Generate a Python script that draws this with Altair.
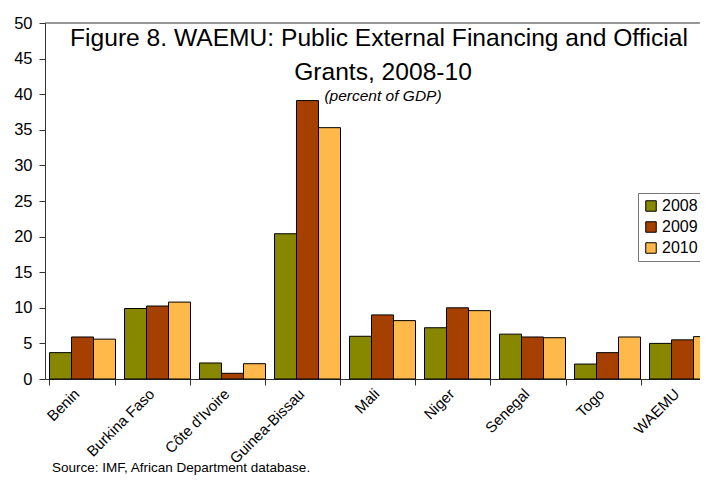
import altair as alt
import pandas as pd

countries = ["Benin", "Burkina Faso", "Côte d'Ivoire", "Guinea-Bissau", "Mali",
             "Niger", "Senegal", "Togo", "WAEMU"]
years = ["2008", "2009", "2010"]
v2008 = [3.7, 9.9, 2.25, 20.4, 6.0, 7.2, 6.3, 2.1, 5.0]
v2009 = [5.9, 10.25, 0.8, 39.1, 9.0, 10.0, 5.9, 3.7, 5.5]
v2010 = [5.6, 10.8, 2.15, 35.3, 8.2, 9.6, 5.8, 5.9, 5.95]
colors = ["#878700", "#A54000", "#FFB84A"]

title1 = "Figure 8. WAEMU: Public External Financing and Official"
title2 = "Grants, 2008-10"
subtitle = "(percent of GDP)"
source = "Source: IMF, African Department database."

rows = []
for i, c in enumerate(countries):
    for y, vals in zip(years, [v2008, v2009, v2010]):
        rows.append({"country": c, "year": y, "value": vals[i]})
df = pd.DataFrame(rows)

FONT = "Liberation Sans"
W, H = 655, 356

bars = alt.Chart(df).mark_bar(stroke="black", strokeWidth=1).encode(
    x=alt.X("country:N", sort=countries, title=None,
            scale=alt.Scale(paddingInner=0.12, paddingOuter=0.06, range=[0, 675]),
            axis=alt.Axis(labelAngle=-45, labelFontSize=15, labelFont=FONT,
                          labelColor="black", tickBand="extent", tickSize=6,
                          tickColor="#333", domainColor="#333", labelPadding=1,
                          labelOffset=-11)),
    xOffset=alt.XOffset("year:N", sort=years),
    y=alt.Y("value:Q", title=None,
            scale=alt.Scale(domain=[0, 50], nice=False),
            axis=alt.Axis(values=list(range(0, 51, 5)), grid=False, labelFontSize=16.5,
                          labelFont=FONT, labelColor="black", tickSize=6,
                          tickColor="#333", domainColor="#333", labelPadding=7)),
    color=alt.Color("year:N", sort=years,
                    scale=alt.Scale(domain=years, range=colors),
                    legend=alt.Legend(title=None, orient="none", legendX=593, legendY=170,
                                      symbolType="square", symbolSize=110,
                                      symbolStrokeColor="black", symbolStrokeWidth=1,
                                      labelFontSize=16, labelFont=FONT, labelColor="black",
                                      strokeColor="#777", padding=5, rowPadding=5,
                                      labelOffset=3, fillColor="white")),
)

top_border = alt.Chart(pd.DataFrame({"t": [0]})).mark_rule(
    color="#333", strokeWidth=1).encode(x=alt.value(0), x2=alt.value(W), y=alt.value(0))

def text_layer(txt, x, y, size, style="normal", align="center"):
    return alt.Chart(pd.DataFrame({"t": [txt]})).mark_text(
        font=FONT, fontSize=size, fontStyle=style, align=align, baseline="alphabetic",
        color="black").encode(text="t:N", x=alt.value(x), y=alt.value(y))

chart = alt.layer(
    bars,
    top_border,
    text_layer(title1, 334, 23, 24.6),
    text_layer(title2, 338, 57, 24.6),
    text_layer(subtitle, 338, 78, 15.5, style="italic"),
    text_layer(source, 7, 449, 13.5, align="left"),
).properties(
    width=W, height=H,
    autosize=alt.AutoSizeParams(type="none"),
    padding={"left": 37, "top": 15, "right": 0, "bottom": 100},
).configure_view(stroke=None)

chart.save("out.html", embed_options={"renderer": "svg", "actions": False})
